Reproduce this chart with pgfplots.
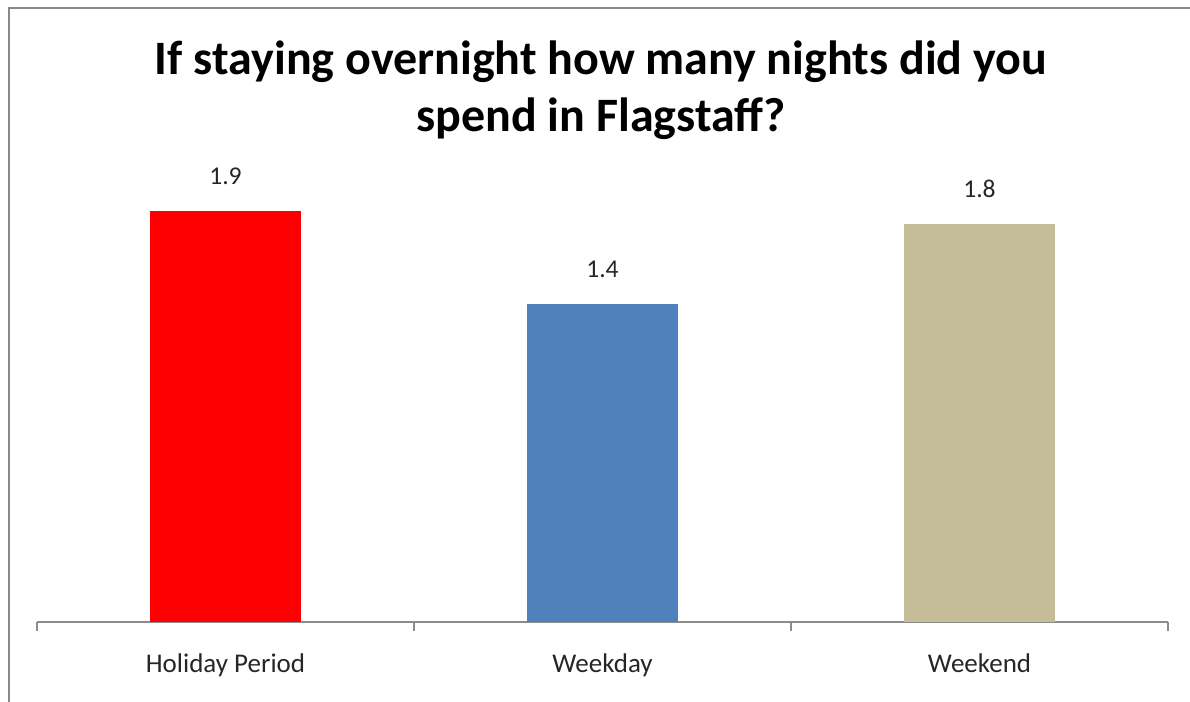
\documentclass[border=0pt]{standalone}
\usepackage{pgfplots}
\pgfplotsset{compat=1.18}
\usepackage{fontspec}
\setmainfont{Carlito}
\definecolor{bordergray}{RGB}{136,136,136}
\definecolor{axisgray}{RGB}{140,140,140}
\definecolor{barred}{RGB}{255,0,0}
\definecolor{barblue}{RGB}{79,129,189}
\definecolor{bartan}{RGB}{196,189,151}
\begin{document}
\begin{tikzpicture}[x=1pt,y=1pt]
\useasboundingbox (0,0) rectangle (595,351);
\draw[bordergray, line width=1.2pt] (4.5,0) -- (4.5,347) -- (595,347);
\node[anchor=base, inner sep=0, font=\fontsize{24}{29}\selectfont\bfseries] at (300.5,313.5) {If staying overnight how many nights did you};
\node[anchor=base, inner sep=0, font=\fontsize{24}{29}\selectfont\bfseries] at (300.5,285) {spend in Flagstaff?};
\begin{axis}[
  at={(18.5pt,40pt)}, anchor=south west,
  width=565.5pt, height=243pt, scale only axis,
  xmin=-0.5, xmax=2.5, ymin=0, ymax=2.2,
  axis x line*=bottom, axis y line=none,
  x axis line style={axisgray, line width=0.7pt},
  xtick={0,1,2},
  xticklabels={Holiday Period, Weekday, Weekend},
  major tick length=0pt,
  minor xtick={-0.5,0.5,1.5,2.5},
  minor tick length=4.5pt,
  xtick align=outside,
  minor tick style={axisgray, line width=0.7pt},
  xticklabel style={anchor=north, inner sep=0pt, text height=8.5pt, yshift=-16.5pt, font=\fontsize{13.5}{16}\selectfont, text=black!85},
  ytick=\empty,
  ybar, bar shift=0pt, bar width=75.5pt,
  nodes near coords,
  every node near coord/.append style={anchor=south, inner sep=0pt, yshift=13pt, font=\fontsize{12.8}{15}\selectfont, text=black!85},
  /pgf/number format/.cd, fixed, precision=1, fixed zerofill, assume math mode=true,
]
\addplot[fill=barred, draw=none] coordinates {(0,1.86)};
\addplot[fill=barblue, draw=none] coordinates {(1,1.44)};
\addplot[fill=bartan, draw=none] coordinates {(2,1.80)};
\end{axis}
\end{tikzpicture}
\end{document}
